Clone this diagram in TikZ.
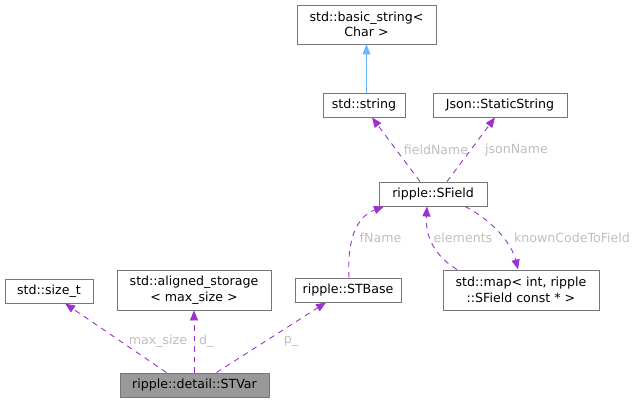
\documentclass[tikz,border=0pt]{standalone}
\usepackage{fontspec}
\setmainfont{DejaVu Sans}
\usetikzlibrary{arrows.meta}
\definecolor{edgegray}{RGB}{118,118,118}
\definecolor{usepurple}{RGB}{154,50,205}
\definecolor{inhblue}{RGB}{99,184,255}
\definecolor{lblgray}{RGB}{190,190,190}
\definecolor{curfill}{RGB}{153,153,153}

\begin{document}
\begin{tikzpicture}[x=1pt,y=-1pt,
  cls/.style={draw=edgegray,fill=white,line width=0.9pt,inner sep=0pt,align=center,font=\fontsize{12.6}{15.5}\selectfont},
  cur/.style={cls,fill=curfill},
  lbl/.style={text=lblgray,inner sep=0pt,font=\fontsize{12.6}{15.5}\selectfont},
  usage/.style={usepurple,line width=0.9pt,dash pattern=on 5.5pt off 5pt,-{Triangle[length=10pt,width=8pt]}},
  inherit/.style={inhblue,line width=0.9pt,-{Triangle[length=10pt,width=8pt]}}
]
\useasboundingbox (0,0) rectangle (639,404);
% classes
\node[cls,minimum width=139pt,minimum height=39pt] (bstr) at (366.5,24.5) {std::basic\_string<\\Char >};
\node[cls,minimum width=82pt,minimum height=24pt] (str) at (364,105) {std::string};
\node[cls,minimum width=134pt,minimum height=24pt] (json) at (500,105) {Json::StaticString};
\node[cls,minimum width=108pt,minimum height=24pt] (sfield) at (433,194) {ripple::SField};
\node[cls,minimum width=106pt,minimum height=24pt] (stbase) at (348,290) {ripple::STBase};
\node[cls,minimum width=156pt,minimum height=40pt] (smap) at (521,290) {std::map< int, ripple\\::SField const * >};
\node[cls,minimum width=88pt,minimum height=24pt] (sizet) at (49,291) {std::size\_t};
\node[cls,minimum width=154pt,minimum height=40pt] (aligned) at (194,290) {std::aligned\_storage\\< max\_size >};
\node[cur,minimum width=149pt,minimum height=24pt] (stvar) at (194.5,385) {ripple::detail::STVar};
% edge labels
\node[lbl] (lfield) at (436,150) {fieldName};
\node[lbl] (ljson) at (516.5,150) {jsonName};
\node[lbl] (lfname) at (380.5,238) {fName};
\node[lbl] (lelem) at (463,238) {elements};
\node[lbl] (lknown) at (572,238) {knownCodeToField};
\node[lbl] (lmax) at (158,341) {max\_size};
\node[lbl,anchor=west] (ld) at (199,341) {d\_};
\node[lbl] (lp) at (291,341) {p\_};
% inheritance
\draw[inherit] (str.north -| bstr.south) -- (bstr.south);
% usage
\draw[usage] ([xshift=-13pt]sfield.north) -- ([xshift=8pt]str.south);
\draw[usage] ([xshift=14pt]sfield.north) -- ([xshift=-5pt]json.south);
\draw[usage] ([xshift=1pt]stbase.north) .. controls (347,240) and (356,217) .. ([xshift=-49pt]sfield.south);
\draw[usage] ([xshift=-64pt]smap.north) .. controls (438,258) and (425,240) .. ([xshift=-6pt]sfield.south);
\draw[usage] ([xshift=32pt]sfield.south) .. controls (495,222) and (512,245) .. ([xshift=-3pt]smap.north);
\draw[usage] ([xshift=-28pt]stvar.north) -- ([xshift=16pt]sizet.south);
\draw[usage] (stvar.north -| aligned.south) -- (aligned.south);
\draw[usage] ([xshift=22pt]stvar.north) -- ([xshift=-22pt]stbase.south);
\end{tikzpicture}
\end{document}
